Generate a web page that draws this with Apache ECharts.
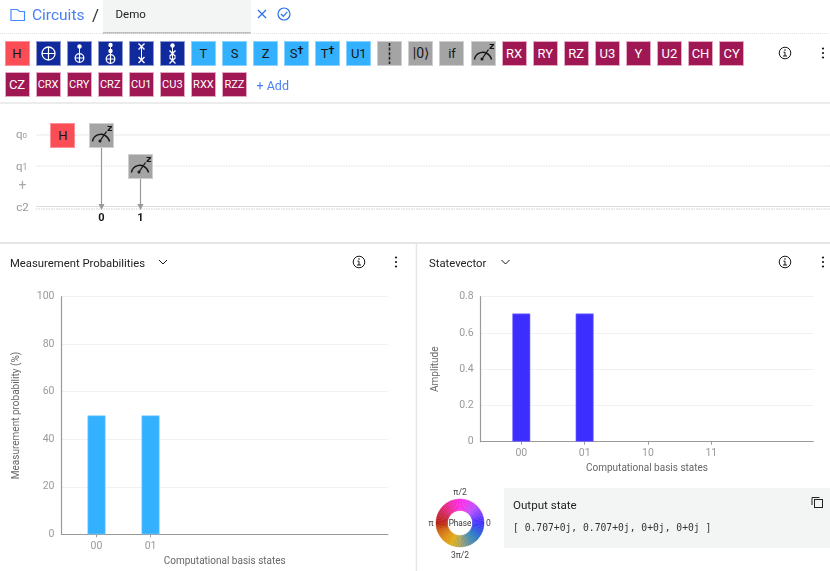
<!DOCTYPE html>
<html>
<head>
<meta charset="utf-8">
<title>Circuits / Demo</title>
<script src="https://cdn.jsdelivr.net/npm/echarts@6/dist/echarts.min.js"></script>
<style>
html,body{margin:0;padding:0;background:#fff;overflow:hidden;}
body{width:830px;height:571px;position:relative;font-family:Roboto,"Noto Sans",sans-serif;color:#161616;}
#charts{position:absolute;left:0;top:0;width:830px;height:571px;}
#chrome{position:absolute;left:0;top:0;width:830px;height:571px;pointer-events:none;}
#chrome svg{position:absolute;left:0;top:0;overflow:visible;}
.box{position:absolute;}
.t{position:absolute;white-space:nowrap;transform:translateY(-50%);}
.c{transform:translate(-50%,-50%);}
.gate{position:absolute;width:25px;height:25px;box-sizing:border-box;border:1px solid;text-align:center;line-height:23px;font-size:13px;}
.gate svg{left:-1px!important;top:-1px!important;}
.gate sup{font-size:11px;font-weight:700;line-height:0;vertical-align:4px;}
.h{background:#fa4d56;border-color:#ff8f96;color:#161616;}
.b{background:#10299c;border-color:#8c9ad0;color:#fff;}
.s{background:#33b1ff;border-color:#8ad3ff;color:#161616;}
.g{background:#a4a4a4;border-color:#cfcfcf;color:#161616;}
.m{background:#9f1853;border-color:#e3a9c3;color:#fff;}
.small{font-size:11px;}
.big{font-size:14px;}
</style>
</head>
<body>
<div id="charts"></div>
<div id="chrome"></div>
<script>
// 数据
var probStates = ['00', '01'];
var probValues = [50, 50];
var probTicks = [0, 1];
var ampStates = ['00', '01', '10', '11'];
var ampValues = [0.707, 0.707, 0, 0];
var ampTicks = [0, 1, 2, 3];
// 相位色环，从 π/2 顺时针取色
var phaseColors = ['#ff26e6', '#e23df0', '#b84cff', '#7a3cff', '#3f2dff', '#2f55e0', '#2a80c0', '#5f8f9e',
    '#a9a060', '#dfae14', '#dd9012', '#d2690f', '#b9210f', '#c8233f', '#e0287a', '#f02ab4'];
var gatesRow1 = ['H', 'cx0', 'cx1', 'cx2', 'sw0', 'sw1', 'T', 'S', 'Z', 'Sd', 'Td', 'U1', 'bar', 'ket', 'if', 'meas',
    'RX', 'RY', 'RZ', 'U3', 'Y', 'U2', 'CH', 'CY'];
var gatesRow2 = ['CZ', 'CRX', 'CRY', 'CRZ', 'CU1', 'CU3', 'RXX', 'RZZ'];
var family = {H: 'h', cx0: 'b', cx1: 'b', cx2: 'b', sw0: 'b', sw1: 'b', T: 's', S: 's', Z: 's', Sd: 's', Td: 's', U1: 's',
    bar: 'g', ket: 'g', 'if': 'g', meas: 'g'};

var W = 'stroke="#fff" fill="none"';
function dot(x, y) { return '<circle cx="' + x + '" cy="' + y + '" r="2.2" fill="#fff"/>'; }
function plus(y, r) {
    return '<circle cx="12.5" cy="' + y + '" r="' + r + '" ' + W + ' stroke-width="1.3"/>' +
        '<path d="M12.5 ' + (y - r) + 'V' + (y + r) + 'M' + (12.5 - r) + ' ' + y + 'H' + (12.5 + r) + '" ' + W + ' stroke-width="1.2"/>';
}
function cross(y) {
    return '<path d="M9.5 ' + (y - 3) + 'L15.5 ' + (y + 3) + 'M15.5 ' + (y - 3) + 'L9.5 ' + (y + 3) + '" ' + W + ' stroke-width="1.4"/>';
}
function wire(a, b) { return '<path d="M12.5 ' + a + 'V' + b + '" ' + W + ' stroke-width="1"/>'; }
function svg(inner) { return '<svg width="25" height="25" viewBox="0 0 25 25">' + inner + '</svg>'; }
var meter = svg('<path d="M3.5 18.5C4.5 11.5 13.5 8.5 18.5 14.5 19.8 16 20.2 17.2 20.5 18.5" stroke="#161616" stroke-width="1.5" fill="none"/>' +
    '<path d="M11 18L17.5 8.5" stroke="#161616" stroke-width="1.3"/><circle cx="11" cy="18" r="1.5" fill="#161616"/>' +
    '<text x="18" y="8" font-size="9.5" font-weight="700" fill="#161616" font-family="DejaVu Sans">z</text>');
var glyph = {
    cx0: svg(plus(12.5, 6.5)),
    cx1: svg(dot(12.5, 5.5) + wire(5.5, 13) + plus(17, 4.3)),
    cx2: svg(dot(12.5, 4) + dot(12.5, 10) + wire(4, 14) + plus(18, 4.3)),
    sw0: svg(cross(5.5) + wire(5.5, 19) + cross(19)),
    sw1: svg(dot(12.5, 4.5) + wire(4.5, 20) + cross(12.5) + cross(19.5)),
    bar: svg('<path d="M12.5 2V23" stroke="#222" stroke-width="1.6" stroke-dasharray="3 1.6"/>'),
    meas: meter,
    ket: '<span class="big">|0⟩</span>',
    Sd: 'S<sup>†</sup>',
    Td: 'T<sup>†</sup>'
};

function gateHtml(name, x, y) {
    var label = glyph[name] || name;
    var cls = family[name] || 'm';
    if (label === name && name.length === 3) { cls += ' small'; }
    return '<div class="gate ' + cls + '" style="left:' + x + 'px;top:' + y + 'px">' + label + '</div>';
}
function txt(s, x, y, css, center) {
    return '<div class="t' + (center ? ' c' : '') + '" style="left:' + x + 'px;top:' + y + 'px;' + css + '">' + s + '</div>';
}
function infoIcon(x, y) {
    return '<circle cx="' + x + '" cy="' + y + '" r="5.8" stroke="#161616" stroke-width="1" fill="#fff"/>' +
        '<path d="M' + (x - 1.5) + ' ' + (y - 0.8) + 'H' + x + 'V' + (y + 3) + 'M' + (x - 2) + ' ' + (y + 3) + 'H' + (x + 2) + '" stroke="#161616" stroke-width="1" fill="none"/>' +
        '<circle cx="' + x + '" cy="' + (y - 3) + '" r="0.8" fill="#161616"/>';
}
function kebab(x, y) {
    return '<circle cx="' + x + '" cy="' + (y - 4.5) + '" r="1.1" fill="#161616"/><circle cx="' + x + '" cy="' + y + '" r="1.1" fill="#161616"/>' +
        '<circle cx="' + x + '" cy="' + (y + 4.5) + '" r="1.1" fill="#161616"/>';
}
function chevron(x, y) {
    return '<path d="M' + (x - 4) + ' ' + (y - 2) + 'L' + x + ' ' + (y + 2) + 'L' + (x + 4) + ' ' + (y - 2) + '" stroke="#161616" stroke-width="1" fill="none"/>';
}

var temp = [];
// 顶部输入框背景、分隔线、图标
temp.push('<div class="box" style="left:102.5px;top:0;width:148.5px;height:32px;background:#f3f4f4;border-bottom:2px solid #c0c0c0"></div>');
temp.push('<svg width="830" height="571">' +
    '<path d="M0 33.5H830" stroke="#e0e0e0" stroke-dasharray="1 1"/>' +
    '<path d="M0 103H830" stroke="#ececec" stroke-width="2"/>' +
    '<path d="M0 243H830" stroke="#dcdcdc" stroke-width="1.5"/>' +
    '<path d="M416.5 244V571" stroke="#e6e6e6" stroke-width="1.5"/>' +
    // folder / close / check
    '<path d="M11 9.5H17.5L19.5 11.5H24.5V20.5H11Z" stroke="#4589ff" stroke-width="1.2" fill="none"/>' +
    '<path d="M258 10L266 18M266 10L258 18" stroke="#2a6ff0" stroke-width="1.2"/>' +
    '<circle cx="284" cy="14" r="6" stroke="#2a6ff0" stroke-width="1.2" fill="none"/>' +
    '<path d="M281 14L283.3 16.3L287.2 11.8" stroke="#2a6ff0" stroke-width="1.2" fill="none"/>' +
    // 线路
    '<path d="M36 135H830" stroke="#f0f0f0" stroke-width="1.5"/>' +
    '<path d="M36 166H830" stroke="#e0e0e0" stroke-dasharray="1.5 1"/>' +
    '<path d="M36 206.5H830" stroke="#dcdcdc"/>' +
    '<path d="M36 209H830" stroke="#d0d0d0" stroke-dasharray="1.5 1"/>' +
    '<path d="M101.5 147V204M140.5 178V204" stroke="#999" stroke-width="1.2"/>' +
    '<path d="M98.5 204H104.5L101.5 210ZM137.5 204H143.5L140.5 210Z" fill="#999"/>' +
    // 面板图标
    infoIcon(785, 53) + kebab(823, 53) + infoIcon(359, 262) + kebab(396, 262) + infoIcon(785, 262) + kebab(823, 262) +
    chevron(163, 262) + chevron(505.5, 262) +
    '</svg>');
temp.push(txt('Circuits', 32, 14.5, 'font-size:15.5px;color:#4a80f5'));
temp.push(txt('/', 92, 14.5, 'font-size:17px;color:#333'));
temp.push(txt('Demo', 115.5, 14, 'font-size:11.5px;color:#222'));

// 工具栏门
var step = 31.07;
for (var i = 0; i < gatesRow1.length; i++) { temp.push(gateHtml(gatesRow1[i], 4.5 + step * i, 40.5)); }
for (var j = 0; j < gatesRow2.length; j++) { temp.push(gateHtml(gatesRow2[j], 4.5 + step * j, 71.5)); }
temp.push(txt('+ Add', 256.5, 84.5, 'font-size:12.5px;color:#4a80f5'));

// 线路图
temp.push(txt('q<span style="font-size:8px">0</span>', 16, 134, 'font-size:11.5px;color:#999'));
temp.push(txt('q<span style="font-size:8.5px">1</span>', 16, 165.5, 'font-size:11.5px;color:#999'));
temp.push(txt('+', 22.5, 185, 'font-size:14px;color:#a8a8a8', true));
temp.push(txt('c2', 22.5, 207, 'font-size:11.5px;color:#999', true));
temp.push(gateHtml('H', 50.3, 122.5));
temp.push(gateHtml('meas', 89.3, 122.5));
temp.push(gateHtml('meas', 128, 153.5));
temp.push(txt('0', 101.5, 216.5, 'font-size:11px;font-weight:700', true));
temp.push(txt('1', 140.5, 216.5, 'font-size:11px;font-weight:700', true));

// 面板标题
temp.push(txt('Measurement Probabilities', 10, 263, 'font-size:11.3px;color:#222'));
temp.push(txt('Statevector', 429, 263, 'font-size:11.3px;color:#222'));

// 色环标签
var wheelCss = 'font-size:8.5px;color:#444';
temp.push(txt('π/2', 460, 491.5, wheelCss, true));
temp.push(txt('0', 488.5, 522.5, wheelCss, true));
temp.push(txt('π', 431, 522.5, wheelCss, true));
temp.push(txt('3π/2', 460, 555, wheelCss, true));
temp.push(txt('Phase', 460, 522.5, 'font-size:8.2px;color:#333', true));

// Output state
temp.push('<div class="box" style="left:504px;top:488px;width:326px;height:60px;background:#f3f4f4"></div>');
temp.push(txt('Output state', 513, 505, 'font-size:11.6px;color:#222'));
temp.push(txt('[ 0.707+0j, 0.707+0j, 0+0j, 0+0j ]', 513, 527, 'font-family:\'DejaVu Sans Mono\',monospace;font-size:9.7px;color:#333'));
temp.push('<svg width="830" height="571"><path d="M812 505V497.5H819.5" stroke="#222" fill="none"/><rect x="814.5" y="499.5" width="8" height="8" stroke="#222" fill="none"/></svg>');
document.getElementById('chrome').innerHTML = temp.join('');

// 图表
function hist(gridIndex, min, max, tickVals, cats, yMax, yStep, yName, color, edge, values) {
    return {
        x: {
            gridIndex: gridIndex, type: 'value', min: min, max: max,
            name: 'Computational basis states', nameLocation: 'middle', nameGap: 22,
            nameTextStyle: {fontSize: 10, color: '#666', fontFamily: 'Roboto'},
            axisLine: {show: true, onZero: false, lineStyle: {color: '#9a9a9a', width: 1.2}},
            axisTick: {show: true, length: 3, customValues: tickVals, lineStyle: {color: '#9a9a9a'}},
            axisLabel: {
                customValues: tickVals, fontSize: 10.5, color: '#9a9a9a', margin: 6.5, fontFamily: 'Roboto',
                formatter: function (v) { return cats[v]; }
            },
            splitLine: {show: false}
        },
        y: {
            gridIndex: gridIndex, type: 'value', min: 0, max: yMax, interval: yStep,
            name: yName, nameLocation: 'middle', nameGap: 40,
            nameTextStyle: {fontSize: 10, color: '#666', fontFamily: 'Roboto'},
            axisLine: {show: true, onZero: false, lineStyle: {color: '#9a9a9a', width: 1.2}},
            axisTick: {show: false},
            axisLabel: {fontSize: 10.5, color: '#9a9a9a', margin: 7, fontFamily: 'Roboto'},
            splitLine: {show: true, lineStyle: {color: '#f1f1f1', width: 1}}
        },
        s: {
            type: 'bar', xAxisIndex: gridIndex, yAxisIndex: gridIndex, barWidth: 18, silent: true,
            itemStyle: {color: color},
            data: values.map(function (v, k) {
                return {value: [k, v], itemStyle: {borderColor: edge, borderWidth: v ? 0.6 : 0}};
            })
        }
    };
}
var left = hist(0, -0.648, 5.395, probTicks, probStates, 100, 20, 'Measurement probability (%)', '#33b1ff', '#7fcdff', probValues);
var right = hist(1, -0.641, 4.61, ampTicks, ampStates, 0.8, 0.2, 'Amplitude', '#3c2eff', '#8379ff', ampValues);

// 色环：按取色点插值铺满
function hex(c) { return [1, 3, 5].map(function (p) { return parseInt(c.substr(p, 2), 16); }); }
var wheel = [];
var perStop = 5;
for (var p = 0; p < phaseColors.length; p++) {
    var a = hex(phaseColors[p]), b = hex(phaseColors[(p + 1) % phaseColors.length]);
    for (var q = 0; q < perStop; q++) {
        var f = q / perStop;
        var col = 'rgb(' + a.map(function (n, k) { return Math.round(n + (b[k] - n) * f); }).join(',') + ')';
        wheel.push({value: 1, itemStyle: {color: col, borderColor: col, borderWidth: 0.4}});
    }
}

var chart = echarts.init(document.getElementById('charts'));
chart.setOption({
    animation: false,
    grid: [
        {left: 61.5, top: 296.7, width: 326.5, height: 237.6},
        {left: 480.7, top: 296.7, width: 332.6, height: 145}
    ],
    xAxis: [left.x, right.x],
    yAxis: [left.y, right.y],
    series: [
        left.s,
        right.s,
        {
            type: 'pie', silent: true, center: [460, 523], radius: [12.5, 24], startAngle: 90 + 360 / 160,
            label: {show: false}, labelLine: {show: false}, data: wheel
        }
    ]
});
</script>
</body>
</html>
